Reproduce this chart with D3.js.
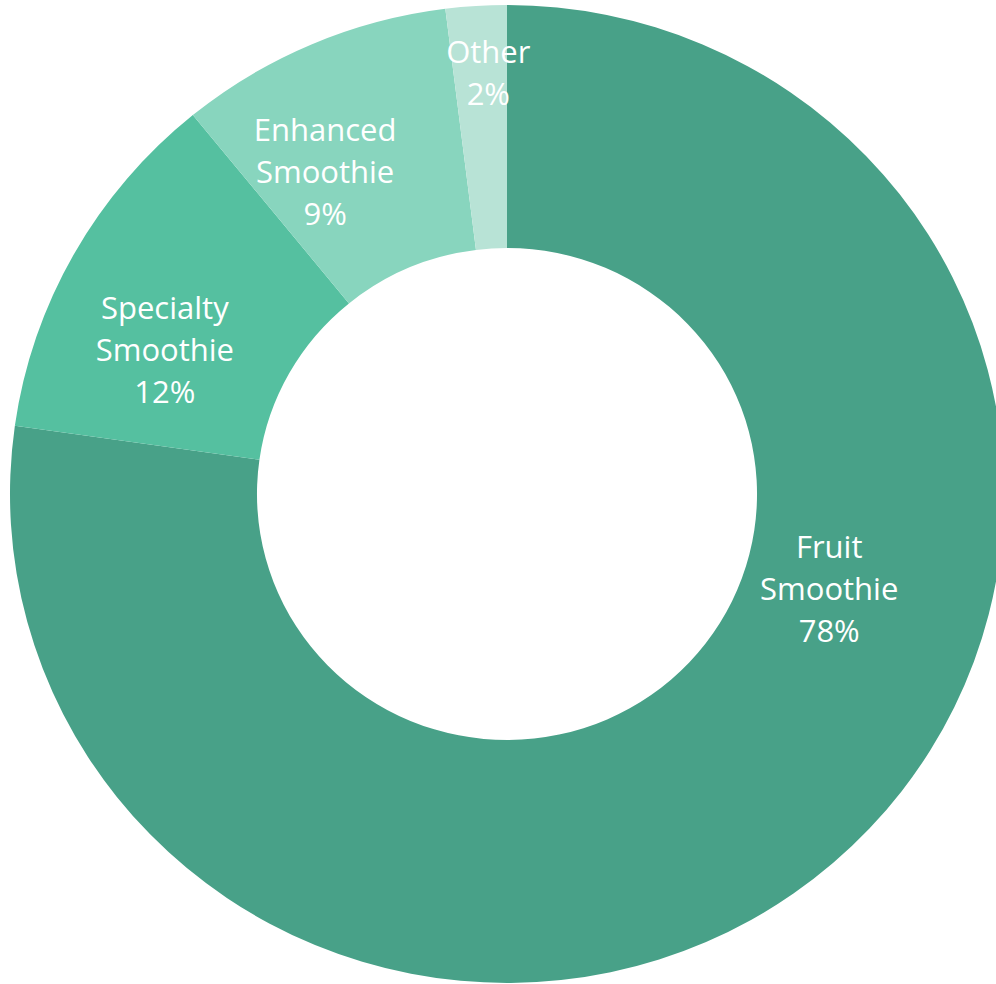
<!DOCTYPE html>
<html>
<head>
<meta charset="utf-8">
<script src="https://cdn.jsdelivr.net/npm/d3@7"></script>
<style>
  body { margin: 0; background: #fff; }
  svg { display: block; }
</style>
</head>
<body>
<div id="chart"></div>
<script>
// data (labels show the raw values, which add up to 101)
var categories = ["Fruit Smoothie", "Specialty Smoothie", "Enhanced Smoothie", "Other"];
var values = [78, 12, 9, 2];
var colors = ["#48a188", "#55c0a0", "#88d5be", "#b8e3d6"];

// where each label sits: [angle from 12 o'clock in degrees, radius]
var labelPlace = [[106.7, 331], [293.1, 366], [330.9, 368], [357.5, 421]];

var width = 996, height = 984;
var cx = 507, cy = 494;
var outerR = 489, innerR = 246;
var sx = 497 / 489; // chart is a touch wider than tall

var svg = d3.select("#chart")
    .append("svg")
    .attr("width", width)
    .attr("height", height);

var g = svg.append("g")
    .attr("transform", "translate(" + cx + "," + cy + ") scale(" + sx + ",1)");

var pie = d3.pie().sort(null).value(function(d) { return d; });
var arcs = pie(values);

var arc = d3.arc()
    .innerRadius(innerR)
    .outerRadius(outerR);

g.selectAll("path")
    .data(arcs)
    .enter()
    .append("path")
    .attr("d", arc)
    .attr("fill", function(d, i) { return colors[i]; });

// labels
var lineH = 42;
var labels = svg.append("g")
    .attr("font-family", "'Open Sans', 'Noto Sans', sans-serif")
    .attr("font-size", 31)
    .attr("fill", "#fff")
    .attr("text-anchor", "middle");

categories.forEach(function(name, i) {
    var a = labelPlace[i][0] * Math.PI / 180, r = labelPlace[i][1];
    var x = cx + sx * r * Math.sin(a);
    var y = cy - r * Math.cos(a);
    var lines = name.split(" ");
    lines.push(values[i] + "%");
    var t = labels.append("text");
    var y0 = y - (lines.length - 1) * lineH / 2 + 11;
    lines.forEach(function(s, k) {
        t.append("tspan")
            .attr("x", x)
            .attr("y", y0 + k * lineH)
            .text(s);
    });
});
</script>
</body>
</html>
